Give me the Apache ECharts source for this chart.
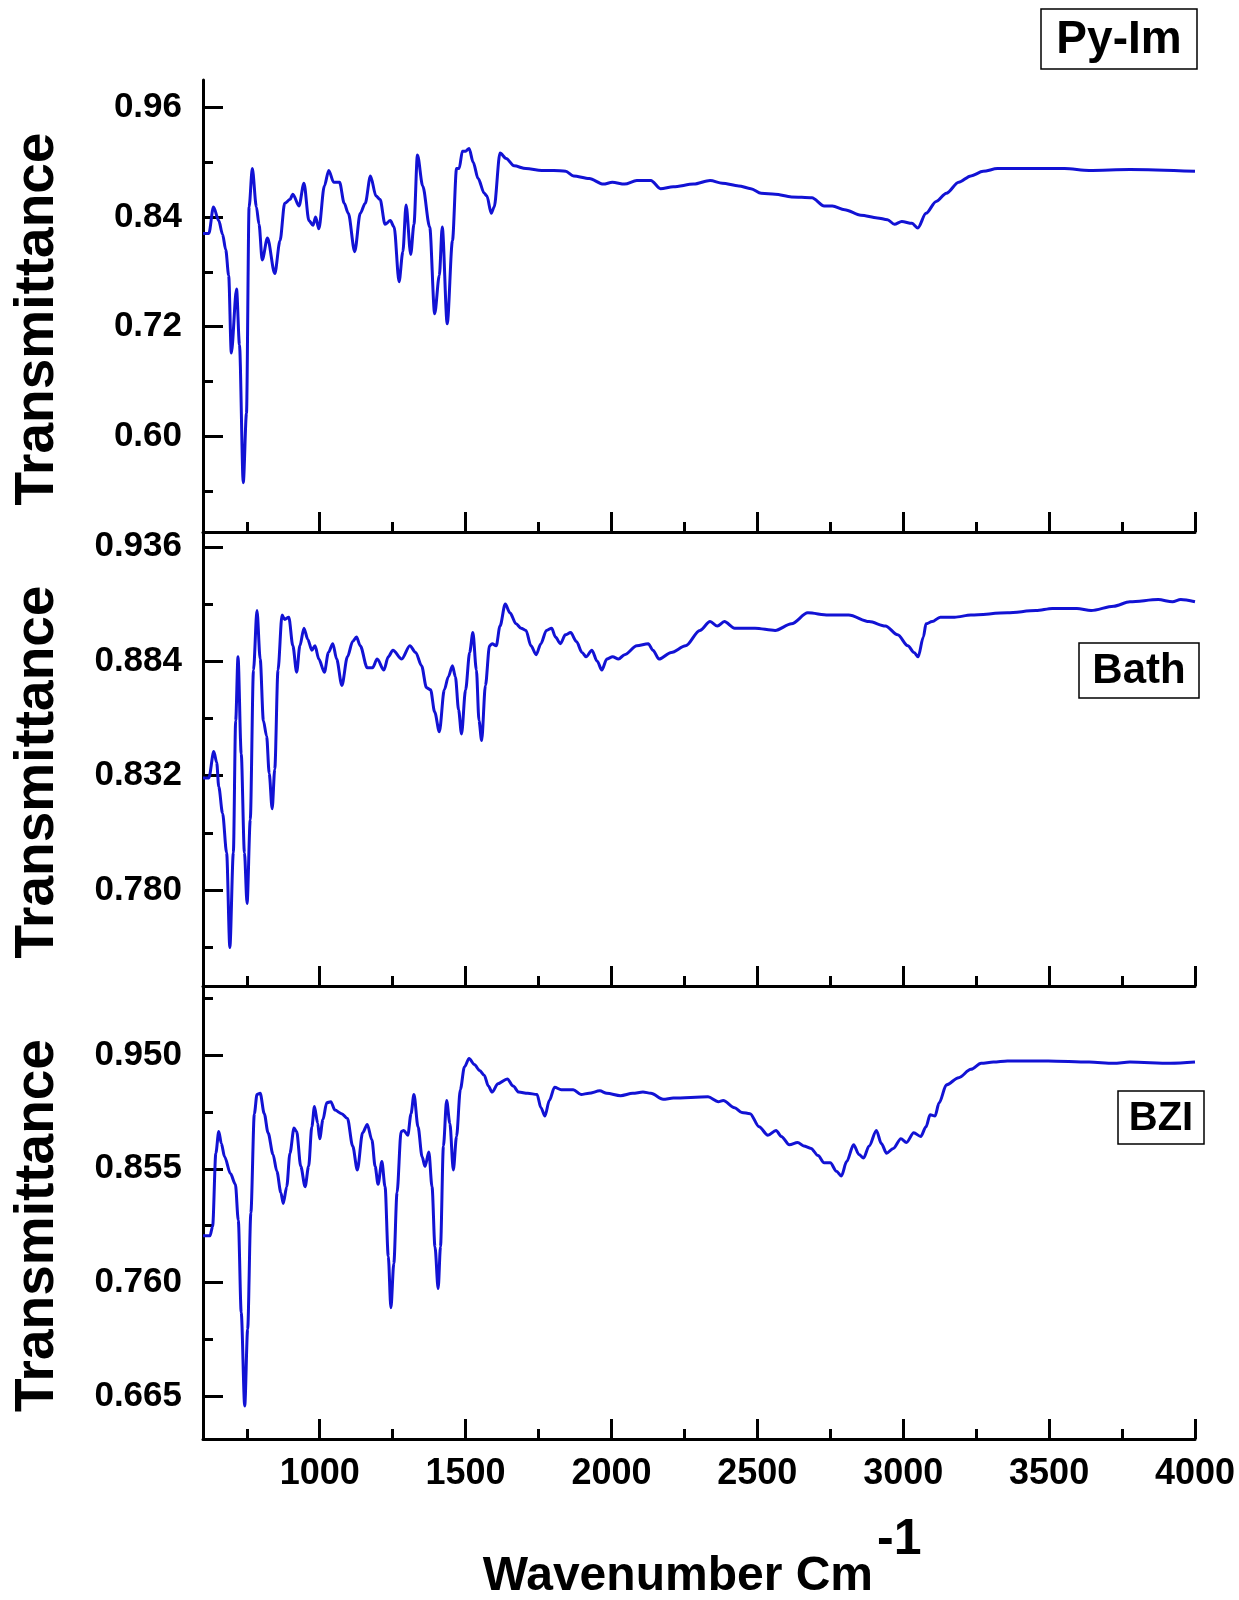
<!DOCTYPE html>
<html>
<head>
<meta charset="utf-8">
<script src="https://cdn.jsdelivr.net/npm/echarts@6/dist/echarts.min.js"></script>
<style>
html,body{margin:0;padding:0;background:#fff;}
#chart{width:1239px;height:1600px;}
</style>
</head>
<body>
<div id="chart"></div>
<script>
// ---- data (wavenumber, transmittance) ----
const pyImSpectrum = [[600,0.822],[620,0.822],[636,0.851],[654,0.836],[667,0.821],[678,0.804],[688,0.776],[697,0.691],[715,0.761],[725,0.700],[738,0.549],[749,0.625],[758,0.851],[769,0.893],[783,0.851],[792,0.832],[803,0.793],[821,0.817],[846,0.778],[864,0.814],[880,0.855],[898,0.859],[908,0.865],[929,0.852],[946,0.877],[963,0.836],[977,0.831],[986,0.840],[997,0.827],[1016,0.874],[1031,0.891],[1048,0.878],[1068,0.878],[1084,0.855],[1098,0.844],[1120,0.802],[1139,0.844],[1156,0.855],[1174,0.885],[1193,0.863],[1207,0.859],[1224,0.832],[1242,0.836],[1255,0.829],[1272,0.769],[1285,0.802],[1296,0.853],[1312,0.799],[1323,0.832],[1335,0.908],[1353,0.874],[1377,0.829],[1394,0.734],[1410,0.776],[1420,0.829],[1437,0.723],[1455,0.814],[1469,0.893],[1478,0.893],[1489,0.912],[1500,0.912],[1512,0.915],[1526,0.900],[1543,0.882],[1564,0.866],[1573,0.863],[1588,0.844],[1598,0.851],[1618,0.910],[1639,0.904],[1666,0.896],[1707,0.893],[1761,0.891],[1802,0.891],[1843,0.890],[1870,0.885],[1924,0.882],[1972,0.876],[2003,0.878],[2045,0.876],[2087,0.880],[2135,0.880],[2168,0.871],[2212,0.873],[2282,0.876],[2338,0.880],[2380,0.877],[2436,0.874],[2478,0.871],[2513,0.866],[2561,0.865],[2617,0.862],[2687,0.861],[2729,0.852],[2757,0.852],[2799,0.848],[2855,0.842],[2911,0.839],[2946,0.837],[2970,0.832],[2995,0.835],[3030,0.833],[3050,0.828],[3078,0.844],[3113,0.857],[3148,0.866],[3190,0.878],[3232,0.885],[3274,0.890],[3323,0.893],[3428,0.893],[3553,0.893],[3637,0.891],[3777,0.892],[4000,0.890]];

const bathSpectrum = [[600,0.831],[620,0.831],[637,0.843],[647,0.838],[654,0.827],[667,0.815],[681,0.797],[692,0.754],[704,0.797],[712,0.857],[720,0.886],[731,0.842],[742,0.797],[751,0.774],[762,0.812],[773,0.880],[785,0.907],[796,0.885],[807,0.857],[818,0.850],[827,0.833],[837,0.817],[846,0.835],[857,0.880],[871,0.905],[880,0.903],[894,0.904],[908,0.891],[921,0.879],[932,0.891],[946,0.899],[959,0.894],[973,0.889],[984,0.891],[997,0.885],[1016,0.879],[1030,0.888],[1045,0.892],[1058,0.885],[1076,0.873],[1095,0.886],[1113,0.893],[1126,0.895],[1139,0.891],[1163,0.881],[1181,0.881],[1197,0.885],[1220,0.880],[1235,0.886],[1251,0.889],[1281,0.885],[1309,0.891],[1329,0.888],[1349,0.882],[1366,0.872],[1380,0.871],[1394,0.861],[1410,0.852],[1427,0.871],[1441,0.877],[1455,0.882],[1465,0.877],[1476,0.862],[1486,0.851],[1500,0.871],[1514,0.888],[1525,0.897],[1537,0.880],[1546,0.857],[1555,0.848],[1568,0.873],[1582,0.891],[1591,0.892],[1605,0.891],[1618,0.900],[1636,0.910],[1652,0.906],[1673,0.901],[1690,0.899],[1707,0.898],[1724,0.891],[1742,0.887],[1758,0.892],[1777,0.898],[1795,0.899],[1808,0.895],[1825,0.892],[1842,0.896],[1860,0.897],[1880,0.893],[1899,0.888],[1913,0.886],[1933,0.889],[1951,0.884],[1967,0.880],[1984,0.885],[2004,0.886],[2024,0.885],[2045,0.887],[2087,0.891],[2126,0.892],[2142,0.889],[2163,0.885],[2205,0.888],[2254,0.891],[2303,0.898],[2338,0.902],[2363,0.900],[2387,0.902],[2422,0.899],[2492,0.899],[2561,0.898],[2617,0.901],[2673,0.906],[2743,0.905],[2813,0.905],[2883,0.902],[2939,0.900],[2981,0.896],[3016,0.891],[3037,0.888],[3051,0.886],[3069,0.895],[3078,0.901],[3099,0.902],[3127,0.904],[3176,0.904],[3232,0.905],[3357,0.906],[3455,0.907],[3511,0.908],[3595,0.908],[3644,0.907],[3721,0.909],[3777,0.911],[3874,0.912],[3923,0.911],[3951,0.912],[4000,0.911]];

const bziSpectrum = [[600,0.799],[624,0.799],[633,0.807],[644,0.868],[654,0.886],[663,0.876],[674,0.865],[694,0.851],[711,0.842],[721,0.812],[731,0.735],[743,0.657],[753,0.721],[764,0.818],[776,0.901],[785,0.917],[796,0.918],[810,0.901],[823,0.885],[840,0.867],[853,0.853],[867,0.835],[875,0.826],[887,0.840],[898,0.868],[912,0.889],[921,0.886],[935,0.857],[950,0.840],[962,0.857],[973,0.890],[982,0.907],[993,0.893],[1000,0.880],[1011,0.896],[1024,0.910],[1038,0.911],[1052,0.904],[1075,0.901],[1095,0.897],[1113,0.874],[1129,0.854],[1147,0.885],[1163,0.892],[1179,0.879],[1190,0.857],[1200,0.842],[1213,0.861],[1224,0.840],[1235,0.782],[1244,0.739],[1254,0.776],[1265,0.835],[1279,0.886],[1288,0.887],[1302,0.883],[1313,0.901],[1323,0.917],[1337,0.890],[1351,0.865],[1361,0.857],[1374,0.869],[1385,0.840],[1395,0.790],[1406,0.755],[1414,0.790],[1424,0.874],[1435,0.912],[1446,0.893],[1458,0.854],[1469,0.882],[1482,0.921],[1496,0.940],[1512,0.947],[1530,0.942],[1548,0.937],[1564,0.933],[1578,0.924],[1591,0.919],[1611,0.926],[1643,0.930],[1663,0.924],[1682,0.919],[1713,0.918],[1745,0.917],[1758,0.906],[1772,0.899],[1787,0.912],[1805,0.923],[1828,0.921],[1869,0.921],[1896,0.917],[1923,0.918],[1960,0.920],[1984,0.918],[2031,0.916],[2073,0.918],[2108,0.919],[2135,0.918],[2177,0.913],[2212,0.914],[2331,0.915],[2366,0.911],[2383,0.912],[2422,0.906],[2447,0.902],[2475,0.901],[2506,0.890],[2536,0.883],[2564,0.887],[2582,0.882],[2610,0.875],[2638,0.877],[2659,0.874],[2684,0.872],[2708,0.866],[2729,0.860],[2750,0.860],[2771,0.853],[2788,0.849],[2806,0.861],[2830,0.875],[2848,0.867],[2864,0.864],[2883,0.874],[2908,0.887],[2925,0.876],[2943,0.868],[2966,0.872],[2992,0.880],[3011,0.877],[3036,0.885],[3060,0.882],[3078,0.890],[3092,0.900],[3109,0.899],[3123,0.910],[3148,0.925],[3190,0.931],[3232,0.938],[3267,0.943],[3309,0.944],[3357,0.945],[3497,0.945],[3637,0.944],[3721,0.943],[3777,0.944],[3916,0.943],[4000,0.944]];

const sampleNames = ['Py-Im', 'Bath', 'BZI'];
const xMajorTicks = [1000, 1500, 2000, 2500, 3000, 3500, 4000];
const xMinorTicks = [750, 1250, 1750, 2250, 2750, 3250, 3750];
const pyImYMajor = [0.60, 0.72, 0.84, 0.96];
const pyImYMinor = [0.54, 0.66, 0.78, 0.90];
const bathYMajor = [0.780, 0.832, 0.884, 0.936];
const bathYMinor = [0.754, 0.806, 0.858, 0.910];
const bziYMajor = [0.665, 0.760, 0.855, 0.950];
const bziYMinor = [0.7125, 0.8075, 0.9025, 0.9975];
const yRanges = [[0.495, 0.99], [0.7365, 0.9427], [0.6295, 1.0075]];
const xTitle = 'Wavenumber Cm';
const xTitleSup = '-1';
const yTitle = 'Transmittance';

// ---- layout ----
const FONT = 'Arial, "Liberation Sans", Helvetica, sans-serif';
const LEFT = 203, WIDTH = 992;
const panels = [
  {top: 80, height: 452, data: pyImSpectrum, major: pyImYMajor, minor: pyImYMinor, dec: 2},
  {top: 532, height: 454, data: bathSpectrum, major: bathYMajor, minor: bathYMinor, dec: 3},
  {top: 986, height: 453, data: bziSpectrum, major: bziYMajor, minor: bziYMinor, dec: 3}
];

const grid = [], xAxis = [], yAxis = [], series = [];
panels.forEach((p, i) => {
  grid.push({left: LEFT, width: WIDTH, top: p.top, height: p.height, containLabel: false});
  const isBottom = i === panels.length - 1;
  xAxis.push({
    type: 'value', gridIndex: i, position: 'bottom', min: 600, max: 4000,
    axisLine: {show: true, onZero: false, lineStyle: {color: '#000', width: 3}},
    axisTick: {show: true, inside: true, length: 20, lineStyle: {color: '#000', width: 3}, customValues: xMajorTicks},
    axisLabel: {show: isBottom, customValues: xMajorTicks, margin: 17, color: '#000',
      fontFamily: FONT, fontWeight: 'bold', fontSize: 36, formatter: v => String(v)},
    splitLine: {show: false}
  });
  xAxis.push({
    type: 'value', gridIndex: i, position: 'bottom', offset: 0, min: 600, max: 4000,
    axisLine: {show: false, onZero: false},
    axisTick: {show: true, inside: true, length: 10, lineStyle: {color: '#000', width: 3}, customValues: xMinorTicks},
    axisLabel: {show: false, customValues: xMinorTicks},
    splitLine: {show: false}
  });
  yAxis.push({
    type: 'value', gridIndex: i, position: 'left', min: yRanges[i][0], max: yRanges[i][1],
    name: yTitle, nameLocation: 'middle', nameGap: 138,
    nameTextStyle: {fontFamily: FONT, fontWeight: 'bold', fontSize: 55, color: '#000', padding: [0, 26, 0, 0]},
    axisLine: {show: true, onZero: false, lineStyle: {color: '#000', width: 3}},
    axisTick: {show: true, inside: true, length: 20, lineStyle: {color: '#000', width: 3}, customValues: p.major},
    axisLabel: {show: true, customValues: p.major, margin: 21, color: '#000',
      fontFamily: FONT, fontWeight: 'bold', fontSize: 35,
      formatter: v => Number(v).toFixed(p.dec)},
    splitLine: {show: false}
  });
  yAxis.push({
    type: 'value', gridIndex: i, position: 'left', offset: 0, min: yRanges[i][0], max: yRanges[i][1],
    axisLine: {show: false, onZero: false},
    axisTick: {show: true, inside: true, length: 10, lineStyle: {color: '#000', width: 3}, customValues: p.minor},
    axisLabel: {show: false, customValues: p.minor},
    splitLine: {show: false}
  });
  series.push({
    name: sampleNames[i], type: 'line', xAxisIndex: 2 * i, yAxisIndex: 2 * i,
    data: p.data, showSymbol: false, symbol: 'none',
    smooth: 0.3, smoothMonotone: 'x',
    lineStyle: {color: '#1212D4', width: 3},
    animation: false
  });
});

function legendBox(x, y, w, h, text, size) {
  return {
    type: 'group', x: x, y: y, z: 100,
    children: [
      {type: 'rect', z: 100, shape: {x: 0, y: 0, width: w, height: h},
       style: {fill: '#fff', stroke: '#000', lineWidth: 1.5}},
      {type: 'text', z: 101, x: w / 2, y: h / 2 + 1,
       style: {text: text, fill: '#000', font: 'bold ' + size + 'px ' + FONT,
               textAlign: 'center', textVerticalAlign: 'middle'}}
    ]
  };
}

const option = {
  backgroundColor: '#fff',
  animation: false,
  grid: grid, xAxis: xAxis, yAxis: yAxis, series: series,
  graphic: [
    legendBox(1041, 9, 156, 60, sampleNames[0], 46),
    legendBox(1079, 643, 120, 55, sampleNames[1], 42),
    legendBox(1118, 1091, 86, 53, sampleNames[2], 40),
    {type: 'text', x: 873, y: 1577,
     style: {text: xTitle, fill: '#000', font: 'bold 48px ' + FONT, textAlign: 'right', textVerticalAlign: 'middle'}},
    {type: 'text', x: 877, y: 1540,
     style: {text: xTitleSup, fill: '#000', font: 'bold 50px ' + FONT, textAlign: 'left', textVerticalAlign: 'middle'}}
  ]
};

const chart = echarts.init(document.getElementById('chart'), null, {renderer: 'canvas'});
chart.setOption(option);
</script>
</body>
</html>
